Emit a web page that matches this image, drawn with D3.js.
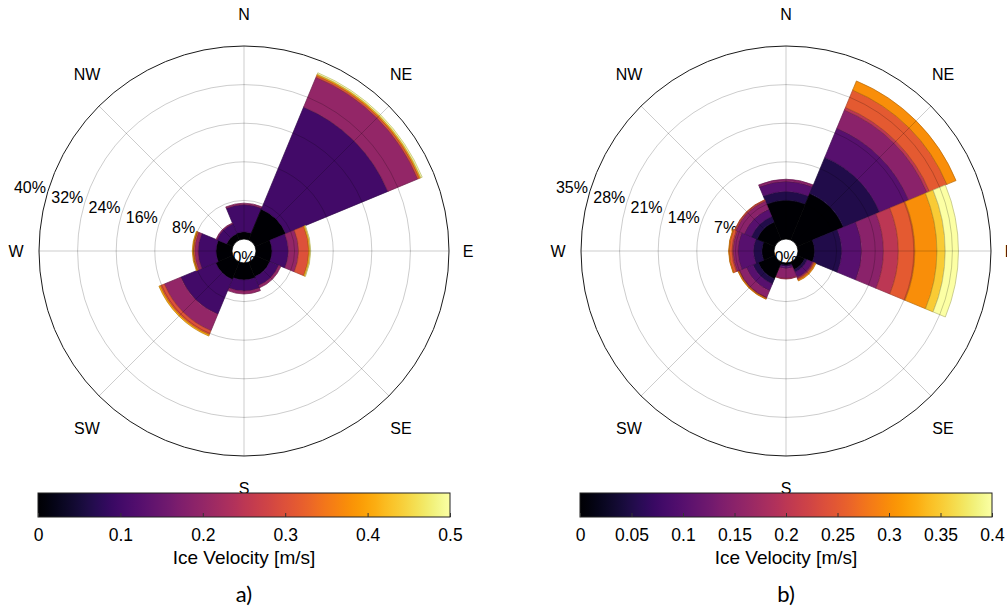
<!DOCTYPE html>
<html>
<head>
<meta charset="utf-8">
<script src="https://cdn.jsdelivr.net/npm/d3@7"></script>
<style>
  html, body { margin: 0; padding: 0; background: #fff; }
  text { font-family: "Liberation Sans", Arial, sans-serif; fill: #000; }
</style>
</head>
<body>
<svg id="chart" width="1007" height="611"></svg>
<script>
// compass sectors, clockwise from north
const directions = ['N', 'NE', 'E', 'SE', 'S', 'SW', 'W', 'NW'];

// panel a) – frequency (%) per direction, one column per velocity bin
const binEdgesA = [0, 0.1, 0.2, 0.3, 0.4, 0.5];
const freqA = [
  [1.5, 5.6, 0.3, 0.0, 0.0, 0.0],   // N
  [6.9, 22.9, 6.7, 0.4, 0.3, 0.3],  // NE
  [3.3, 3.4, 2.1, 2.1, 0.3, 0.1],   // E
  [3.3, 2.0, 0.5, 0.0, 0.0, 0.0],   // SE
  [3.5, 2.3, 0.6, 0.0, 0.0, 0.0],   // S
  [3.9, 7.8, 3.7, 0.9, 0.3, 0.0],   // SW
  [3.3, 3.7, 0.7, 0.3, 0.2, 0.0],   // W
  [1.4, 2.2, 0.2, 0.0, 0.0, 0.0]    // NW
];
const rTicksA = [0, 8, 16, 24, 32, 40];
const cbTicksA = [0, 0.1, 0.2, 0.3, 0.4, 0.5];
const cbLabelsA = ['0', '0.1', '0.2', '0.3', '0.4', '0.5'];

// panel b)
const binEdgesB = [0, 0.05, 0.1, 0.15, 0.2, 0.25, 0.3, 0.35, 0.4];
const freqB = [
  [7.0, 1.6, 1.8, 0.4, 0.0, 0.0, 0.0, 0.0, 0.0],  // N
  [9.1, 7.1, 5.7, 3.6, 0.5, 3.4, 1.8, 0.0, 0.0],  // NE
  [3.0, 4.9, 3.6, 4.0, 2.7, 3.0, 4.0, 1.5, 2.4],  // E
  [1.5, 0.5, 1.0, 0.2, 0.1, 0.2, 0.2, 0.0, 0.0],  // SE
  [0.4, 0.2, 0.4, 1.8, 0.1, 0.0, 0.0, 0.0, 0.0],  // S
  [3.3, 1.0, 1.3, 1.4, 0.1, 0.1, 0.1, 0.0, 0.0],  // SW
  [2.2, 1.5, 2.8, 0.9, 0.2, 0.5, 0.1, 0.0, 0.0],  // W
  [3.5, 1.1, 1.4, 1.6, 0.2, 0.1, 0.0, 0.0, 0.0]   // NW
];
const rTicksB = [0, 7, 14, 21, 28, 35];
const cbTicksB = [0, 0.05, 0.1, 0.15, 0.2, 0.25, 0.3, 0.35, 0.4];
const cbLabelsB = ['0', '0.05', '0.1', '0.15', '0.2', '0.25', '0.3', '0.35', '0.4'];

const svg = d3.select('#chart');

// gradient for the colour bars
const defs = svg.append('defs');
const grad = defs.append('linearGradient').attr('id', 'inferno');
d3.range(0, 1.0001, 0.02).forEach(t => {
  grad.append('stop')
    .attr('offset', `${t * 100}%`)
    .attr('stop-color', d3.interpolateInferno(t));
});

function drawRose(cx, cy, freq, binEdges, rTicks, cbTicks, cbLabels, panel) {
  const g = svg.append('g');
  const nBins = binEdges.length;
  const color = k => d3.interpolateInferno(k / (nBins - 1));

  const r = d3.scaleLinear()
    .domain([0, rTicks[rTicks.length - 1]])
    .range([12, 205]);
  const ang = d3.scaleBand().domain(directions).range([0, 2 * Math.PI]);
  const half = ang.bandwidth() / 2;
  const dirAngle = d => ang(d);   // sector centre

  // percent labels (under the bars)
  const a15 = 15 * Math.PI / 180;
  rTicks.forEach(t => {
    if (t === 0) {
      g.append('text').attr('x', cx).attr('y', cy + 12)
        .attr('text-anchor', 'middle').style('font-size', '16px').text('0%');
    } else {
      g.append('text')
        .attr('x', cx - r(t) * Math.cos(a15))
        .attr('y', cy - r(t) * Math.sin(a15) - 5)
        .attr('text-anchor', 'end').style('font-size', '16px')
        .text(`${t}%`);
    }
  });

  // direction labels
  directions.forEach(d => {
    const a = dirAngle(d);
    const s = Math.round(Math.sin(a) * 1000) / 1000;
    const c = Math.round(Math.cos(a) * 1000) / 1000;
    let dx, dy;
    if (s !== 0 && c !== 0) { dx = Math.sign(s) * 157; dy = -Math.sign(c) * 177; }
    else { dx = s > 0 ? 224 : (s < 0 ? -228 : 0); dy = -c * 237; }
    g.append('text').attr('x', cx + dx).attr('y', cy + dy)
      .attr('text-anchor', 'middle').attr('dominant-baseline', 'central')
      .style('font-size', '16px').text(d);
  });

  // stacked sectors
  const arc = d3.arc();
  const segs = [];
  freq.forEach((row, i) => {
    let c = 0;
    row.forEach((f, k) => {
      if (f > 0) {
        segs.push({ dir: directions[i], k, inner: c, outer: c + f });
      }
      c += f;
    });
  });
  g.append('g').attr('transform', `translate(${cx},${cy})`)
    .selectAll('path').data(segs).join('path')
    .attr('d', s => arc({
      innerRadius: r(s.inner), outerRadius: r(s.outer),
      startAngle: dirAngle(s.dir) - half, endAngle: dirAngle(s.dir) + half
    }))
    .attr('fill', s => color(s.k))
    .attr('stroke', s => d3.color(color(s.k)).darker(0.9))
    .attr('stroke-width', 0.7);

  // grid drawn over the bars, semi-transparent
  const grid = g.append('g').attr('transform', `translate(${cx},${cy})`);
  grid.selectAll('circle').data(rTicks.slice(0, -1)).join('circle')
    .attr('r', t => r(t)).attr('fill', 'none')
    .attr('stroke', '#000').attr('stroke-opacity', 0.2);
  grid.selectAll('line').data(directions).join('line')
    .attr('x1', d => r(0) * Math.sin(dirAngle(d)))
    .attr('y1', d => -r(0) * Math.cos(dirAngle(d)))
    .attr('x2', d => r.range()[1] * Math.sin(dirAngle(d)))
    .attr('y2', d => -r.range()[1] * Math.cos(dirAngle(d)))
    .attr('stroke', '#000').attr('stroke-opacity', 0.2);
  grid.append('circle').attr('r', r.range()[1])
    .attr('fill', 'none').attr('stroke', '#1a1a1a').attr('stroke-width', 1);

  // colour bar
  const cbX = d3.scaleLinear().domain([cbTicks[0], cbTicks[cbTicks.length - 1]])
    .range([cx - 206, cx + 206]);
  const cbY = 493, cbH = 24;
  g.append('rect').attr('x', cbX.range()[0]).attr('y', cbY)
    .attr('width', cbX.range()[1] - cbX.range()[0]).attr('height', cbH)
    .attr('fill', 'url(#inferno)').attr('stroke', '#222').attr('stroke-width', 1);

  const ax = g.append('g').attr('transform', `translate(0,${cbY + cbH})`)
    .call(d3.axisBottom(cbX).tickValues(cbTicks).tickSize(-4)
      .tickFormat((d, i) => cbLabels[i]));
  ax.select('.domain').remove();
  ax.selectAll('.tick line').attr('stroke', '#333');
  ax.selectAll('.tick text')
    .attr('y', 24).attr('dy', 0)
    .style('font-size', '17.5px').style('font-family', '"Liberation Sans", Arial, sans-serif')
    .attr('fill', '#000');

  g.append('text').attr('x', cx).attr('y', 564)
    .attr('text-anchor', 'middle').style('font-size', '19px')
    .text('Ice Velocity [m/s]');

  g.append('text').attr('x', cx).attr('y', 602)
    .attr('text-anchor', 'middle')
    .style('font-family', 'Lato, "Open Sans", sans-serif').style('font-size', '22px')
    .text(`${panel})`);
}

drawRose(244, 251, freqA, binEdgesA, rTicksA, cbTicksA, cbLabelsA, 'a');
drawRose(786, 251, freqB, binEdgesB, rTicksB, cbTicksB, cbLabelsB, 'b');
</script>
</body>
</html>
